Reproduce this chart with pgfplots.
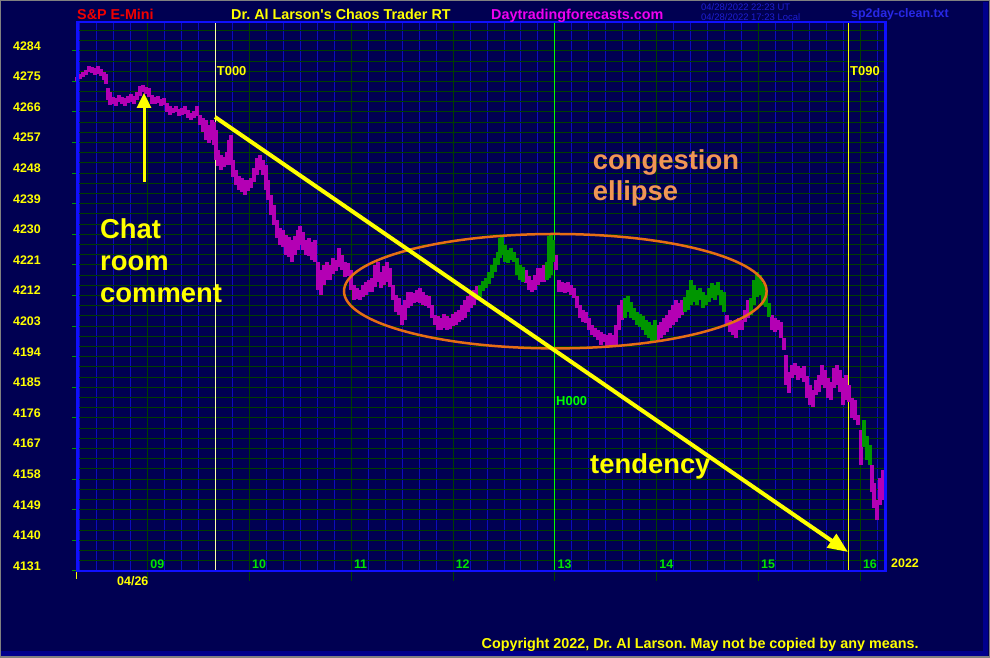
\documentclass[border=0pt]{standalone}
\usepackage{fontspec}
\setmainfont{Liberation Sans}
\usepackage{pgfplots}
\pgfplotsset{compat=1.18}
\usepackage{pgfplotstable}
\usetikzlibrary{arrows.meta}
\frenchspacing

\definecolor{bgnavy}{RGB}{0,0,82}
\definecolor{gridgreen}{RGB}{0,62,0}
\definecolor{gridblue}{RGB}{12,12,190}
\definecolor{axisblue}{RGB}{16,16,255}
\definecolor{barmag}{RGB}{180,0,180}
\definecolor{bargrn}{RGB}{0,150,0}
\definecolor{ylw}{RGB}{255,255,0}
\definecolor{paleylw}{RGB}{255,255,170}
\definecolor{hgreen}{RGB}{0,255,0}
\definecolor{daygreen}{RGB}{0,230,0}
\definecolor{ttlred}{RGB}{240,0,0}
\definecolor{ttlmag}{RGB}{240,0,240}
\definecolor{ttlblue}{RGB}{40,40,230}
\definecolor{stampblue}{RGB}{30,30,210}
\definecolor{ellorange}{RGB}{230,110,20}
\definecolor{txtorange}{RGB}{240,150,85}
\definecolor{framegray}{RGB}{128,128,128}
\definecolor{stripblue}{RGB}{0,0,140}

\newcommand{\lblfont}{\bfseries\fontsize{12.5}{14}\selectfont}
\newcommand{\ttlfont}{\bfseries\fontsize{14.4}{16}\selectfont}
\newcommand{\annfont}{\bfseries\fontsize{27.5}{30}\selectfont}

% bars: bar position, high, low
\pgfplotstableread{
x hi lo
1 4276.3 4275.1
4 4277.2 4275.7
7 4277.8 4276.3
10 4278.4 4276.9
13 4279.5 4277.8
16 4279.2 4277.5
19 4278.9 4276.9
22 4279.5 4277.2
25 4278.6 4276.6
28 4277.8 4275.4
30 4277.2 4274.2
32 4273.1 4269.5
34 4271.9 4268.1
37 4270.4 4268.4
40 4270.1 4267.8
43 4271.0 4268.9
46 4270.4 4268.4
49 4270.1 4267.8
52 4270.7 4268.6
55 4271.3 4268.9
58 4270.7 4268.4
61 4271.9 4269.5
64 4273.6 4270.7
67 4273.9 4271.9
70 4273.3 4271.3
73 4273.1 4270.4
76 4271.0 4268.4
79 4270.4 4268.4
82 4270.7 4268.6
85 4269.8 4267.8
88 4270.1 4268.1
91 4268.6 4266.0
94 4267.8 4265.1
97 4267.2 4265.7
100 4267.8 4266.0
103 4266.9 4264.8
106 4267.2 4265.1
109 4267.8 4265.4
112 4266.6 4264.2
115 4265.7 4263.6
118 4266.3 4264.2
121 4267.8 4264.8
124 4265.1 4262.2
127 4264.2 4260.1
130 4263.6 4257.8
133 4262.2 4256.9
136 4263.6 4257.8
138 4263.1 4256.3
140 4260.7 4251.9
142 4254.8 4250.1
145 4253.3 4248.9
148 4252.8 4249.8
151 4254.2 4250.4
153 4257.8 4251.9
155 4259.2 4250.4
157 4251.9 4246.9
160 4248.9 4244.5
163 4247.2 4243.1
166 4246.6 4242.5
169 4246.0 4241.6
172 4246.0 4242.8
175 4246.6 4243.6
178 4249.5 4245.4
181 4252.5 4247.5
184 4253.3 4248.9
187 4251.9 4247.5
190 4250.4 4243.1
192 4246.0 4240.1
195 4241.6 4235.7
198 4238.6 4232.8
201 4234.2 4228.9
204 4231.9 4226.9
207 4231.3 4226.3
210 4229.8 4224.0
213 4229.2 4223.4
216 4228.4 4221.9
219 4229.5 4224.0
222 4231.3 4225.4
224 4232.5 4226.9
227 4230.7 4225.4
230 4228.4 4224.0
233 4228.9 4223.7
236 4227.8 4222.5
239 4228.4 4221.9
242 4221.9 4213.6
245 4219.5 4212.2
248 4221.0 4215.1
251 4221.9 4216.6
254 4221.0 4216.6
257 4223.1 4218.4
260 4222.5 4219.2
263 4226.0 4220.4
266 4224.0 4219.5
269 4221.9 4217.5
272 4221.6 4217.8
275 4219.5 4213.6
278 4215.1 4210.7
281 4214.2 4211.0
284 4213.6 4210.7
287 4215.1 4211.6
290 4216.0 4212.2
293 4216.6 4213.0
296 4217.2 4213.0
299 4221.0 4214.5
302 4221.9 4216.0
305 4218.9 4214.2
308 4220.7 4215.1
311 4221.9 4216.0
314 4220.1 4214.5
317 4215.1 4210.7
320 4212.2 4207.2
323 4211.3 4206.3
326 4209.2 4203.3
329 4210.7 4204.8
332 4213.0 4208.4
335 4213.0 4209.0
338 4212.8 4209.8
341 4213.6 4210.1
344 4214.2 4209.8
347 4213.0 4209.2
350 4212.2 4209.0
353 4211.9 4208.4
356 4209.2 4205.4
359 4206.3 4203.3
362 4206.0 4201.9
365 4205.4 4201.9
368 4206.6 4202.5
371 4206.0 4201.9
374 4205.4 4202.2
377 4206.6 4203.1
380 4207.2 4203.3
383 4207.8 4204.2
386 4209.2 4204.8
389 4210.7 4205.4
392 4211.9 4207.2
395 4212.8 4208.4
398 4213.6 4209.2
401 4214.8 4210.7
450 4219.5 4215.7
453 4217.8 4213.6
456 4216.6 4213.0
459 4218.1 4213.6
462 4220.1 4215.1
465 4220.1 4216.0
468 4221.0 4216.0
480 4223.9 4219.5
483 4216.6 4213.0
486 4216.0 4213.0
489 4215.7 4212.8
492 4216.0 4213.0
495 4215.1 4212.2
498 4214.2 4211.3
501 4211.9 4208.4
504 4209.2 4205.4
507 4207.8 4204.2
510 4207.2 4203.9
513 4205.4 4201.9
516 4203.4 4200.4
519 4202.5 4199.8
522 4201.9 4198.9
525 4201.3 4197.5
528 4200.7 4198.4
531 4200.4 4197.2
534 4201.0 4197.5
537 4200.4 4196.9
540 4203.3 4197.5
543 4209.2 4201.9
546 4210.7 4204.8
582 4203.3 4198.4
585 4204.2 4199.5
588 4205.4 4200.4
591 4206.3 4201.3
594 4207.8 4202.5
597 4209.2 4203.3
600 4210.7 4204.2
603 4209.8 4205.4
606 4210.7 4206.3
651 4206.3 4203.3
654 4204.8 4201.3
657 4204.2 4200.4
660 4204.8 4199.5
663 4205.4 4201.9
666 4204.8 4201.9
669 4207.8 4204.2
672 4210.7 4205.4
696 4206.3 4201.9
699 4205.4 4201.3
702 4204.8 4201.9
705 4204.2 4199.5
708 4199.5 4196.0
710 4194.5 4185.7
713 4189.5 4183.4
716 4191.6 4187.8
719 4192.2 4188.6
722 4191.3 4187.2
725 4190.7 4187.8
728 4191.3 4186.6
731 4188.4 4181.9
734 4185.7 4179.8
737 4184.2 4179.2
740 4187.2 4182.8
743 4188.6 4183.6
746 4191.6 4185.7
749 4190.1 4184.8
752 4187.8 4181.9
755 4186.6 4181.3
758 4190.7 4184.8
761 4191.6 4185.7
764 4190.1 4183.6
767 4187.8 4179.8
770 4188.6 4181.3
773 4185.7 4180.7
776 4181.9 4176.0
779 4181.3 4175.4
782 4176.9 4174.0
785 4172.5 4162.2
796 4162.2 4154.2
798 4156.9 4149.5
801 4151.9 4146.0
804 4158.3 4150.3
807 4160.7 4151.9
809 4157.8 4151.9
}\magbars

\pgfplotstableread{
x hi lo
404 4215.1 4211.6
407 4216.3 4213.3
410 4217.2 4214.2
413 4218.9 4215.4
416 4221.0 4217.2
419 4223.1 4218.9
422 4224.8 4221.0
424 4228.9 4223.1
426 4229.8 4224.0
429 4226.9 4221.9
432 4225.4 4221.6
435 4226.0 4222.5
438 4224.8 4221.9
441 4223.1 4218.1
444 4221.0 4216.6
447 4220.4 4216.0
471 4221.9 4216.6
473 4229.5 4217.2
475 4229.8 4218.1
477 4228.4 4221.9
549 4211.3 4205.4
552 4211.9 4207.2
555 4210.1 4205.4
558 4208.4 4204.8
561 4207.2 4203.3
564 4206.6 4202.8
567 4206.0 4201.9
570 4204.8 4200.4
573 4204.2 4199.5
576 4203.3 4198.4
579 4204.8 4198.9
609 4211.6 4207.2
612 4213.6 4207.8
615 4216.6 4209.2
618 4215.1 4210.1
621 4213.6 4209.2
624 4214.2 4210.7
627 4213.0 4208.4
630 4212.2 4209.2
633 4214.2 4210.1
636 4215.7 4211.3
639 4215.1 4210.7
642 4216.0 4212.2
645 4213.6 4209.2
648 4213.0 4207.2
675 4211.3 4206.3
678 4216.6 4209.2
681 4218.9 4211.6
684 4218.1 4212.2
687 4215.7 4209.2
690 4213.6 4208.6
693 4209.8 4205.7
788 4175.4 4167.5
791 4170.7 4163.6
794 4168.1 4162.2
}\grnbars

\begin{document}
\begin{tikzpicture}[x=1bp,y=1bp]
\fill[bgnavy] (0,0) rectangle (990,658);
\useasboundingbox (0,0) rectangle (990,658);
\fill[stripblue] (0,2) rectangle (988,7);
\fill[stripblue] (983,2) rectangle (988,656);
\draw[framegray, line width=1.5bp] (0.75,0.75) rectangle (989.25,657.25);

\begin{axis}[
  at={(76bp,87bp)}, anchor=south west,
  width=810bp, height=549bp, scale only axis,
  xmin=0, xmax=810, ymin=4131, ymax=4292.47,
  clip=false,
  axis line style={draw=axisblue, line width=1bp},
  tick style={draw=none},
  xtick={71.7,173.5,275.3,377.1,478.9,580.7,682.5,784.3},
  xticklabels={},
  minor xtick={3.832,20.799,...,806},
  ytick={4131,4140,...,4284},
  yticklabels={4131,4140,4149,4158,4167,4176,4185,4194,4203,4212,4221,4230,4239,4248,4257,4266,4275,4284},
  minor ytick={4131,4134,...,4290},
  grid=both,
  minor x grid style={draw=gridblue, line width=1bp},
  major x grid style={draw=gridgreen, line width=1bp},
  minor y grid style={draw=gridgreen, line width=1bp},
  major y grid style={draw=gridgreen, line width=1bp},
  yticklabel style={anchor=east, inner sep=0pt, xshift=-35bp, yshift=5bp, text=ylw, font=\lblfont},
]
% T000, H000, T090 time lines
\draw[paleylw, line width=1bp] (axis cs:139.3,4131) -- (axis cs:139.3,4292.47);
\draw[hgreen, line width=1.3bp] (axis cs:478.5,4131) -- (axis cs:478.5,4292.47);
\draw[ylw, line width=1.3bp] (axis cs:772.3,4131) -- (axis cs:772.3,4292.47);

% price bars, high to low
\addplot[draw=barmag, line width=3.2bp, mark=none,
  quiver={u=0, v=\thisrow{lo}-\thisrow{hi}}]
  table[x=x, y=hi] {\magbars};
\addplot[draw=bargrn, line width=3.2bp, mark=none,
  quiver={u=0, v=\thisrow{lo}-\thisrow{hi}}]
  table[x=x, y=hi] {\grnbars};
\end{axis}

% everything below in picture pixels, y counted downwards
\begin{scope}[yshift=658bp, yscale=-1]
  % plot frame
  \draw[axisblue, line width=1.2bp] (76,22) -- (886,22);
  \draw[axisblue, line width=3bp] (77.3,21.5) -- (77.3,572);
  \draw[axisblue, line width=2.5bp] (76,571) -- (886.7,571);
  \draw[axisblue, line width=2.5bp] (885.5,21.5) -- (885.5,572);
  % ticks
  \foreach \k in {0,...,17} \draw[bargrn, line width=1bp] (72,{571-30.61*\k}) -- (76,{571-30.61*\k});
  \foreach \k in {0,...,7} \draw[gridgreen, line width=1bp] ({147.7+101.8*\k},572) -- ++(0,9);
  \draw[ylw, line width=1bp] (76.7,572) -- (76.7,579);
  \foreach \k/\h in {0/09,1/10,2/11,3/12,4/13,5/14,6/15,7/16}
    \node[anchor=base west, inner sep=0pt, text=daygreen, font=\lblfont] at ({150.2+101.8*\k},569) {\h};
  \node[anchor=base west, inner sep=0pt, text=ylw, font=\lblfont] at (117,585.7) {04/26};
  \node[anchor=base west, inner sep=0pt, text=ylw, font=\lblfont] at (891,567.5) {2022};
  % header
  \node[anchor=base west, inner sep=0pt, text=ttlred, font=\ttlfont] at (77,19.3) {S\&P E-Mini};
  \node[anchor=base west, inner sep=0pt, text=ylw, font=\ttlfont] at (231,19.3) {Dr. Al Larson\textquotesingle s Chaos Trader RT};
  \node[anchor=base west, inner sep=0pt, text=ttlmag, font=\ttlfont] at (491,19.3) {Daytradingforecasts.com};
  \node[anchor=base west, inner sep=0pt, text=stampblue, font=\fontsize{9.5}{11}\selectfont] at (701,10.4) {04/28/2022 22:23 UT};
  \node[anchor=base west, inner sep=0pt, text=stampblue, font=\fontsize{9.5}{11}\selectfont] at (701,20.4) {04/28/2022 17:23 Local};
  \node[anchor=base west, inner sep=0pt, text=ttlblue, font=\bfseries\fontsize{12.5}{14}\selectfont] at (851,17.5) {sp2day-clean.txt};
  \node[anchor=base west, inner sep=0pt, text=ylw, font=\ttlfont] at (481.5,648.3) {Copyright 2022, Dr. Al Larson. May not be copied by any means.};
  % line labels
  \node[anchor=base west, inner sep=0pt, text=ylw, font=\bfseries\fontsize{13}{15}\selectfont] at (216.7,76) {T000};
  \node[anchor=base west, inner sep=0pt, text=ylw, font=\bfseries\fontsize{13}{15}\selectfont] at (850,76) {T090};
  \node[anchor=base west, inner sep=0pt, text=hgreen, font=\bfseries\fontsize{13}{15}\selectfont] at (556,405.7) {H000};
  % annotations
  \draw[ellorange, line width=2.5bp] (555.3,291.2) ellipse [x radius=211.3, y radius=57.2];
  \draw[ylw, line width=4bp, -{Triangle[length=20bp, width=16bp]}] (215,117) -- (848,552);
  \draw[ylw, line width=3bp, -{Triangle[length=15bp, width=14bp]}] (144,182) -- (144,93);
  \node[anchor=base west, inner sep=0pt, text=ylw, font=\annfont] at (100,238.3) {Chat};
  \node[anchor=base west, inner sep=0pt, text=ylw, font=\annfont] at (100,270.3) {room};
  \node[anchor=base west, inner sep=0pt, text=ylw, font=\annfont] at (100,302.3) {comment};
  \node[anchor=base west, inner sep=0pt, text=txtorange, font=\annfont] at (592.7,170) {congestion};
  \node[anchor=base west, inner sep=0pt, text=txtorange, font=\annfont] at (592.7,201) {ellipse};
  \node[anchor=base west, inner sep=0pt, text=ylw, font=\annfont] at (590,473.3) {tendency};
\end{scope}
\end{tikzpicture}
\end{document}
